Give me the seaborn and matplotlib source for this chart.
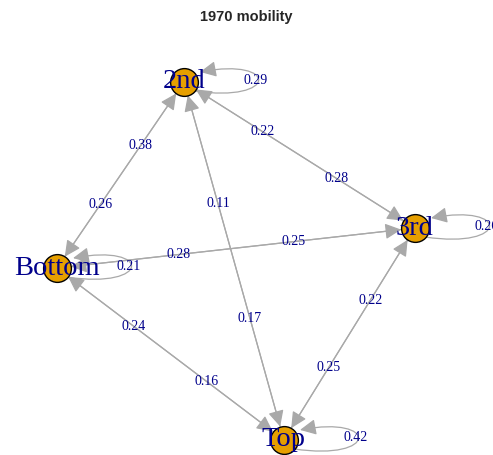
import numpy as np
import pandas as pd
import matplotlib
matplotlib.use('Agg')
import matplotlib.pyplot as plt
from matplotlib.patches import FancyArrowPatch
from matplotlib.path import Path
import seaborn as sns

# nodes and layout (igraph-style, scaled to [-1, 1])
nodes = ['2nd', '3rd', 'Bottom', 'Top']
layout_x = [-0.29, 1.0, -1.0, 0.268]
layout_y = [1.0, 0.184, -0.04, -1.0]

# transition probabilities (from -> to)
edge_from = ['Bottom', 'Bottom', 'Bottom', '2nd', '2nd', '2nd',
             '3rd', '3rd', '3rd', 'Top', 'Top', 'Top']
edge_to = ['2nd', '3rd', 'Top', 'Bottom', '3rd', 'Top',
           'Bottom', '2nd', 'Top', 'Bottom', '2nd', '3rd']
edge_weight = [0.38, 0.25, 0.16, 0.26, 0.28, 0.17,
               0.28, 0.22, 0.25, 0.24, 0.11, 0.22]

loop_node = ['Bottom', '2nd', '3rd', 'Top']
loop_weight = [0.21, 0.29, 0.26, 0.42]

node_df = pd.DataFrame({'name': nodes, 'x': layout_x, 'y': layout_y})
pos = {n: (x, y) for n, x, y in zip(nodes, layout_x, layout_y)}

sns.set_theme(style='white')
label_blue = '#00008B'
edge_grey = '#A9A9A9'
serif = ['Liberation Serif', 'DejaVu Serif']

fig = plt.figure(figsize=(4.93, 4.55), dpi=100)
ax = fig.add_axes([0, 0, 1, 1])
ax.set_xlim(-1.318, 1.436)
ax.set_ylim(-1.084, 1.458)
ax.axis('off')

arrow_style = '-|>,head_length=0.65,head_width=0.32'

# edges between nodes (mutual edges overlap -> double heads)
for a, b, w in zip(edge_from, edge_to, edge_weight):
    p0, p1 = np.array(pos[a]), np.array(pos[b])
    arr = FancyArrowPatch(p0, p1, arrowstyle=arrow_style, mutation_scale=15,
                          color=edge_grey, lw=0.9, shrinkA=10, shrinkB=10,
                          zorder=1)
    ax.add_patch(arr)
    lx, ly = p0 + (p1 - p0) * 0.66
    ax.text(lx, ly, f'{w:.2f}', color=label_blue, fontsize=10,
            family=serif, ha='center', va='center', zorder=4)

# self loops
for n, w in zip(loop_node, loop_weight):
    cx, cy = pos[n]
    verts = [(cx + 0.056, cy - 0.05), (cx + 0.53, cy - 0.12),
             (cx + 0.53, cy + 0.14), (cx + 0.09, cy + 0.056)]
    path = Path(verts, [Path.MOVETO, Path.CURVE4, Path.CURVE4, Path.CURVE4])
    loop = FancyArrowPatch(path=path, arrowstyle=arrow_style, mutation_scale=15,
                           color=edge_grey, lw=0.9, zorder=1)
    ax.add_patch(loop)
    ax.text(cx + 0.40, cy + 0.011, f'{w:.2f}', color=label_blue, fontsize=10,
            family=serif, ha='center', va='center', zorder=4)

sns.scatterplot(data=node_df, x='x', y='y', s=400, color='#E69F00',
                edgecolor='black', linewidth=1, ax=ax, zorder=2, legend=False)
ax.set_xlabel('')
ax.set_ylabel('')

for n, x, y in zip(nodes, layout_x, layout_y):
    ax.text(x, y, n, color=label_blue, fontsize=20.5, family=serif,
            ha='center', va='center', zorder=3)

fig.text(0.5, 1 - 17 / 455, '1970 mobility', ha='center', va='center',
         fontsize=10.5, fontweight='bold', family=['Liberation Sans', 'DejaVu Sans'])

fig.savefig('out.png', dpi=100)
